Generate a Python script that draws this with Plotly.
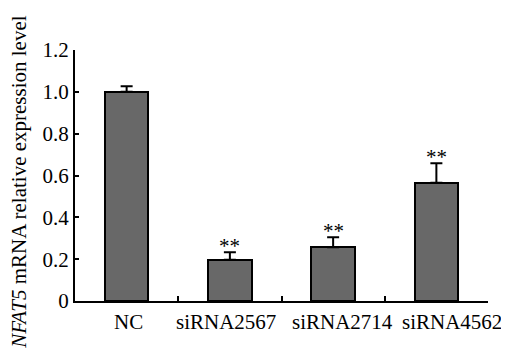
import plotly.graph_objects as go

categories = ["NC", "siRNA2567", "siRNA2714", "siRNA4562"]
values = [1.0, 0.197, 0.257, 0.565]
errors = [0.027, 0.036, 0.048, 0.093]
stars = ["", "**", "**", "**"]
y_tickvals = [0, 0.2, 0.4, 0.6, 0.8, 1.0, 1.2]
y_ticktext = ["0", "0.2", "0.4", "0.6", "0.8", "1.0", "1.2"]

# horizontal nudges (px) of the category labels, as placed in the original figure
label_shift = [1.5, -4, 9, 16]

FONT = "Liberation Serif"

fig = go.Figure()
fig.add_trace(go.Bar(
    x=categories, y=values, width=0.42,
    marker=dict(color="#686868", line=dict(color="black", width=2)),
    error_y=dict(type="data", symmetric=False, array=errors, arrayminus=[0]*len(errors),
                 color="black", thickness=2, width=6),
))

for c, v, e, s in zip(categories, values, errors, stars):
    if s:
        fig.add_annotation(x=c, y=v + e, text=s, showarrow=False, xanchor="center",
                           yanchor="bottom", yshift=-8,
                           font=dict(family=FONT, size=21, color="black"))

for c, dx in zip(categories, label_shift):
    fig.add_annotation(x=c, xref="x", yref="paper", y=0, text=c, showarrow=False,
                       xanchor="center", yanchor="top", xshift=dx, yshift=-7,
                       font=dict(family=FONT, size=21, color="black"))

fig.add_annotation(xref="paper", yref="paper", x=-0.136, y=0.474,
                   text="<i>NFAT5</i> mRNA relative expression level",
                   textangle=-90, showarrow=False, xanchor="center", yanchor="middle",
                   font=dict(family=FONT, size=21, color="black"))

# page body has an 8px default margin, so the figure is sized to fit the window
fig.update_layout(
    width=501, height=352,
    margin=dict(l=67, r=21, t=42, b=59, autoexpand=False),
    paper_bgcolor="white", plot_bgcolor="white",
    showlegend=False,
    font=dict(family=FONT, size=21, color="black"),
    bargap=0,
)
fig.update_xaxes(
    type="category", range=[-0.5, 3.5], automargin=False, showticklabels=False,
    showline=True, linecolor="black", linewidth=2,
    ticks="inside", tickson="boundaries", ticklen=5, tickwidth=2, tickcolor="black",
    showgrid=False,
)
fig.update_yaxes(
    range=[0, 1.2], tickvals=y_tickvals, ticktext=y_ticktext, automargin=False,
    showline=True, linecolor="black", linewidth=2,
    ticks="inside", ticklen=4, tickwidth=2, tickcolor="black",
    showgrid=False, zeroline=False, tickfont=dict(family=FONT, size=21, color="black"),
)

fig.write_html("out.html")
